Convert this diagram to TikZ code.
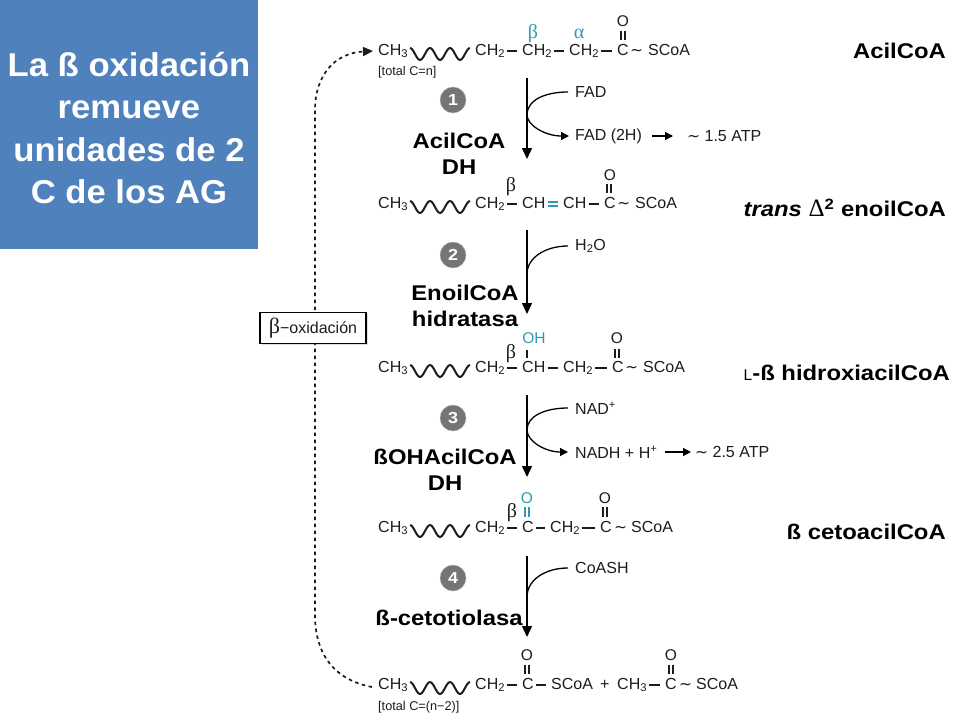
\documentclass[tikz,border=0pt]{standalone}
\usepackage{fontspec}
\usetikzlibrary{arrows.meta,shadows}
\setmainfont{Liberation Sans}
\newfontfamily\greekfont{Liberation Serif}
\newfontfamily\boldwide[FakeStretch=1.12]{Liberation Sans Bold}
\newfontfamily\boldtitle[FakeStretch=1.05]{Liberation Sans Bold}
\newfontfamily\italwide[FakeStretch=1.12]{Liberation Sans Bold Italic}
\newfontfamily\symfont{DejaVu Sans}
\newcommand{\swung}{{\symfont\fontsize{15.5}{15.5}\selectfont\char"223C}}
\definecolor{boxblue}{HTML}{4F81BD}
\definecolor{tealc}{HTML}{2F9BB3}
\definecolor{inkc}{HTML}{1C1C1C}
\definecolor{stepgray}{HTML}{757575}
\tikzset{
  chem/.style={anchor=west,inner sep=0pt,text height=11.5pt,text depth=3.5pt,text=inkc,font=\fontsize{16}{16}\selectfont},
  small/.style={anchor=west,inner sep=0pt,text=inkc,font=\fontsize{16}{16}\selectfont},
  oxy/.style={anchor=center,inner sep=0pt,text=inkc,font=\fontsize{15.5}{16}\selectfont},
  greek/.style={anchor=center,inner sep=0pt,text=inkc,font=\fontsize{20}{20}\greekfont},
  enzyme/.style={align=center,inner sep=0pt,text=black,font=\fontsize{21.3}{25.5}\boldwide},
  species/.style={anchor=east,inner sep=0pt,text=black,font=\fontsize{21.3}{25}\boldwide},
  stepnum/.style={circle,fill=stepgray,draw=gray!60,minimum size=26pt,inner sep=0pt,text=white,font=\fontsize{16}{16}\boldwide},
  bond/.style={line width=2pt,draw=inkc,shorten <=2pt,shorten >=5pt},
  dbond/.style={line width=1.6pt,draw=inkc,double distance=2.2pt},
  tealbond/.style={line width=2pt,draw=tealc,double distance=2.2pt},
  wavy/.pic={\draw[line width=2pt,draw=inkc,line join=round] plot[smooth,domain=0:3,samples=37] ({\x*20},{6-6*cos(\x*360)});},
  mainarrow/.style={line width=1.4pt,draw=black,-{Triangle[length=11pt,width=10pt]}},
  sidecurve/.style={line width=1.3pt,draw=black},
  sidetip/.style={line width=1.3pt,draw=black,-{Triangle[length=8pt,width=8pt]}}
}
\begin{document}
\begin{tikzpicture}[x=1pt,y=-1pt]
  \useasboundingbox (0,0) rectangle (960,720);
  \fill[white] (0,0) rectangle (960,720);
  % title
  \fill[boxblue] (0,0) rectangle (258,249);
  \node (titulo) at (129,128) [align=center,inner sep=0pt,text=white,font=\fontsize{33}{42.5}\boldtitle] {La ß oxidación\\remueve\\unidades de 2\\C de los AG};
  % loop
  \coordinate (loopa) at (372,687);
  \coordinate (loopb) at (373,51);
  \draw[line width=1.7pt,dash pattern=on 3.5pt off 3.5pt,draw=inkc,-{Triangle[length=10pt,width=9pt]}] (loopa) .. controls (335,680) and (315,655) .. (315,615) -- (315,110) .. controls (315,75) and (335,53) .. (loopb);
  \node (betaox) at (313,328) [draw=black,line width=1.8pt,fill=white,minimum width=106pt,minimum height=31pt,inner sep=0pt,drop shadow={opacity=.25,shadow xshift=1.5pt,shadow yshift=-1.5pt},text=inkc] {{\fontsize{22}{22}\greekfont β}{\fontsize{16}{16}\selectfont −}{\fontsize{16}{16}\selectfont oxidación}};
  % row 1
  \draw
    (378,51) node[chem] (a1){CH\textsubscript{3}}
    (475,51) node[chem] (a2){CH\textsubscript{2}}
    (522,51) node[chem] (a3){CH\textsubscript{2}}
    (569,51) node[chem] (a4){CH\textsubscript{2}}
    (617,51) node[chem] (a5){C}
    (630,51) node[chem] (a6){\swung}
    (648,51) node[chem] (a7){SCoA}
    (623,21) node[oxy] (a8){O}
    (533,34) node[greek,text=tealc] (a9){β}
    (579,34) node[greek,text=tealc] (a10){α}
    (378,72.5) node[small,font=\fontsize{12.7}{13}\selectfont] (a11){[total C=n]}
    (623,31) coordinate (a12)
    (623,40) coordinate (a13);
  \pic at (410,48) {wavy};
  \draw[bond] (a2) to (a3);
  \draw[bond] (a3) to (a4);
  \draw[bond] (a4) to (a5);
  \draw[dbond] (a12) to (a13);
  % step 1
  \draw
    (453,100) node[stepnum] (n1){1}
    (459,154) node[enzyme] (e1){AcilCoA\\DH}
    (527,78) coordinate (s1)
    (527,159) coordinate (t1)
    (527,115) coordinate (m1)
    (568,92) coordinate (c1)
    (569,136) coordinate (u1)
    (575,92) node[small] (f1){FAD}
    (575,136) node[small] (f2){FAD (2H)}
    (687,136) node[small] (f3){\swung\ 1.5 ATP}
    (652,136) coordinate (g1)
    (673,136) coordinate (g2);
  \draw[mainarrow] (s1) to (t1);
  \draw[sidecurve] (c1) .. controls (545,92) and (527,100) .. (m1);
  \draw[sidetip] (m1) .. controls (527,125) and (545,136) .. (u1);
  \draw[sidetip] (g1) to (g2);
  % row 2
  \draw
    (378,204) node[chem] (b1){CH\textsubscript{3}}
    (475,204) node[chem] (b2){CH\textsubscript{2}}
    (522,204) node[chem] (b3){CH}
    (563,204) node[chem] (b4){CH}
    (604,204) node[chem] (b5){C}
    (617,204) node[chem] (b6){\swung}
    (635,204) node[chem] (b7){SCoA}
    (610,175) node[oxy] (b8){O}
    (511,187) node[greek] (b9){β}
    (609,184) coordinate (b10)
    (609,193) coordinate (b11)
    (548,204) coordinate (b12)
    (558,204) coordinate (b13);
  \pic at (410,201) {wavy};
  \draw[bond] (b2) to (b3);
  \draw[tealbond,line width=2pt,double distance=1.6pt] (b12) to (b13);
  \draw[bond] (b4) to (b5);
  \draw[dbond] (b10) to (b11);
  % row 3
  \draw
    (378,368) node[chem] (d1){CH\textsubscript{3}}
    (475,368) node[chem] (d2){CH\textsubscript{2}}
    (522,368) node[chem] (d3){CH}
    (563,368) node[chem] (d4){CH\textsubscript{2}}
    (612,368) node[chem] (d5){C}
    (625,368) node[chem] (d6){\swung}
    (643,368) node[chem] (d7){SCoA}
    (617,338) node[oxy] (d8){O}
    (511,354) node[greek] (d9){β}
    (534,338) node[oxy,text=tealc] (d10){OH}
    (527,350) coordinate (d11)
    (527,358) coordinate (d12)
    (617,349) coordinate (d13)
    (617,358) coordinate (d14);
  \pic at (410,365) {wavy};
  \draw[bond] (d2) to (d3);
  \draw[bond] (d3) to (d4);
  \draw[bond] (d4) to (d5);
  \draw[bond,shorten <=0pt,shorten >=0pt] (d11) to (d12);
  \draw[dbond] (d13) to (d14);
  % step 2
  \draw
    (453,255) node[stepnum] (n2){2}
    (465,306) node[enzyme] (e2){EnoilCoA\\hidratasa}
    (527,230) coordinate (s2)
    (527,314) coordinate (t2)
    (527,274) coordinate (m2)
    (568,246) coordinate (c2)
    (575,246) node[small] (f4){H\textsubscript{2}O};
  \draw[mainarrow] (s2) to (t2);
  \draw[sidecurve] (c2) .. controls (545,246) and (527,258) .. (m2);
  % step 3
  \draw
    (453,418) node[stepnum] (n3){3}
    (445,470) node[enzyme] (e3){ßOHAcilCoA\\DH}
    (527,395) coordinate (s3)
    (527,477) coordinate (t3)
    (527,430) coordinate (m3)
    (568,408) coordinate (c3)
    (568,452) coordinate (u3)
    (575,408) node[small] (f5){NAD\textsuperscript{+}}
    (575,452) node[small] (f6){NADH + H\textsuperscript{+}}
    (695,452) node[small] (f7){\swung\ 2.5 ATP}
    (665,452) coordinate (g3)
    (691,452) coordinate (g4);
  \draw[mainarrow] (s3) to (t3);
  \draw[sidecurve] (c3) .. controls (545,408) and (527,416) .. (m3);
  \draw[sidetip] (m3) .. controls (527,441) and (545,452) .. (u3);
  \draw[sidetip] (g3) to (g4);
  % row 4
  \draw
    (378,528) node[chem] (h1){CH\textsubscript{3}}
    (475,528) node[chem] (h2){CH\textsubscript{2}}
    (522,528) node[chem] (h3){C}
    (550,528) node[chem] (h4){CH\textsubscript{2}}
    (600,528) node[chem] (h5){C}
    (614,528) node[chem] (h6){\swung}
    (631,528) node[chem] (h7){SCoA}
    (605,498) node[oxy] (h8){O}
    (527,498) node[oxy,text=tealc] (h9){O}
    (512,513) node[greek] (h10){β}
    (527,507) coordinate (h11)
    (527,517) coordinate (h12)
    (605,507) coordinate (h13)
    (605,517) coordinate (h14);
  \pic at (410,525) {wavy};
  \draw[bond] (h2) to (h3);
  \draw[bond] (h3) to (h4);
  \draw[bond] (h4) to (h5);
  \draw[tealbond] (h11) to (h12);
  \draw[dbond] (h13) to (h14);
  % step 4
  \draw
    (453,578) node[stepnum] (n4){4}
    (449,618) node[enzyme] (e4){ß-cetotiolasa}
    (527,556) coordinate (s4)
    (527,637) coordinate (t4)
    (527,597) coordinate (m4)
    (568,568) coordinate (c4)
    (575,568) node[small] (f8){CoASH};
  \draw[mainarrow] (s4) to (t4);
  \draw[sidecurve] (c4) .. controls (545,568) and (527,580) .. (m4);
  % row 5
  \draw
    (378,685) node[chem] (k1){CH\textsubscript{3}}
    (475,685) node[chem] (k2){CH\textsubscript{2}}
    (522,685) node[chem] (k3){C}
    (551,685) node[chem] (k4){SCoA}
    (600,685) node[chem] (k5){+}
    (617,685) node[chem] (k6){CH\textsubscript{3}}
    (665,685) node[chem] (k7){C}
    (679,685) node[chem] (k8){\swung}
    (696,685) node[chem] (k9){SCoA}
    (527,655) node[oxy] (k10){O}
    (671,655) node[oxy] (k11){O}
    (527,665) coordinate (k12)
    (527,674) coordinate (k13)
    (671,665) coordinate (k14)
    (671,674) coordinate (k15)
    (378,707) node[small,font=\fontsize{12.7}{13}\selectfont] (k16){[total C=(n−2)]};
  \pic at (410,682) {wavy};
  \draw[bond] (k2) to (k3);
  \draw[bond] (k3) to (k4);
  \draw[bond] (k6) to (k7);
  \draw[dbond] (k12) to (k13);
  \draw[dbond] (k14) to (k15);
  % names on the right
  \draw
    (946,51) node[species] (r1){AcilCoA}
    (946,208) node[species] (r2){{\italwide trans} {\fontsize{25}{25}\greekfont Δ}\textsuperscript{2} enoilCoA}
    (950,373) node[species] (r3){{\rmfamily\fontsize{15.5}{15.5}\selectfont L}-ß hidroxiacilCoA}
    (946,532) node[species] (r4){ß cetoacilCoA};
\end{tikzpicture}
\end{document}
